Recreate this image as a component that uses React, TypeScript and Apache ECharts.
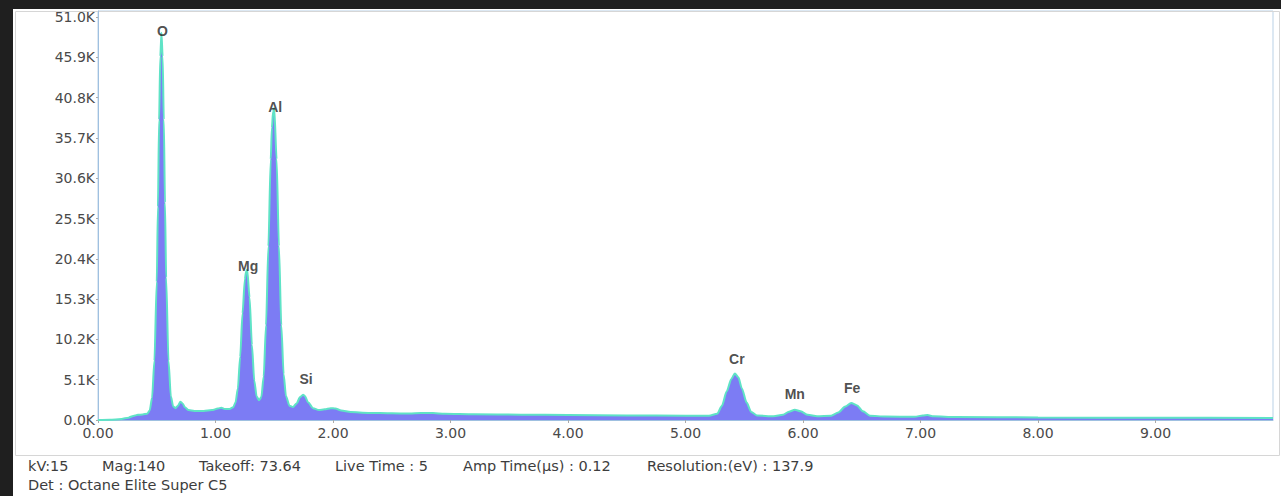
import React, { useEffect, useRef } from "react";
import * as echarts from "echarts";

// Energy channels (keV) and counts of the EDS spectrum
const energyKeV = [
  0.0, 0.1, 0.2, 0.26, 0.3, 0.34, 0.38, 0.42, 0.44, 0.46, 0.48, 0.5, 0.51, 0.52, 0.53, 0.54, 0.55, 0.56, 0.57, 0.58,
  0.6, 0.62, 0.64, 0.66, 0.68, 0.7, 0.72, 0.74, 0.77, 0.82, 0.9, 0.97, 1.02, 1.05, 1.08, 1.12, 1.15, 1.17, 1.19,
  1.21, 1.23, 1.25, 1.26, 1.27, 1.29, 1.31, 1.33, 1.35, 1.37, 1.39, 1.41, 1.43, 1.45, 1.47, 1.48, 1.49, 1.5, 1.52,
  1.54, 1.56, 1.58, 1.6, 1.63, 1.66, 1.69, 1.72, 1.745, 1.76, 1.79, 1.83, 1.88, 1.93, 1.98, 2.02, 2.07, 2.15, 2.3,
  2.5, 2.65, 2.75, 2.85, 2.95, 3.2, 3.6, 4.0, 4.5, 5.0, 5.2, 5.27, 5.31, 5.35, 5.39, 5.42, 5.45, 5.48, 5.52, 5.56,
  5.61, 5.75, 5.83, 5.88, 5.93, 5.98, 6.04, 6.12, 6.24, 6.3, 6.36, 6.41, 6.46, 6.51, 6.57, 6.7, 6.95, 7.02, 7.06, 7.11,
  7.3, 8.0, 9.0, 10.0,
];
const counts = [
  0, 30, 120, 300, 520, 650, 700, 800, 1200, 2800, 7500, 17500, 27000, 38000, 46000, 49000, 46000, 38000, 27500, 18000,
  7500, 3000, 1700, 1500, 1800, 2300, 2100, 1600, 1250, 1150, 1150, 1250, 1450, 1550, 1400, 1400, 1600, 2200, 4000,
  8000, 13500, 17800, 18800, 19000, 15500, 9500, 5000, 3000, 2500, 2900, 5500, 12000, 22000, 33000, 37000, 39000, 39500, 33000,
  22000, 12000, 5800, 3000, 1800, 1650, 2100, 2900, 3200, 3050, 2200, 1500, 1250, 1350, 1500, 1450, 1200, 1000, 900,
  850, 820, 900, 880, 780, 720, 680, 640, 580, 530, 540, 800, 1800, 3600, 5200, 5900, 5400, 4000, 2200, 1000,
  560, 480, 650, 1050, 1300, 1100, 650, 480, 550, 950, 1700, 2150, 1850, 1100, 550, 430, 420, 560, 620, 470,
  380, 320, 280, 250,
];

// Identified element peaks
const peakNames = ["O", "Mg", "Al", "Si", "Cr", "Mn", "Fe"];
const peakKeV = [0.54, 1.27, 1.5, 1.745, 5.42, 5.93, 6.41];
const peakCounts = [49000, 19000, 39500, 3200, 5900, 1300, 2150];

// Axis ticks
const xTickStep = 1;
const yTickStep = 5100;

// Acquisition details shown under the chart
const acquisitionLine = ["kV:15", "Mag:140", "Takeoff: 73.64", "Live Time : 5", "Amp Time(µs) : 0.12", "Resolution:(eV) : 137.9"];
const detectorLine = "Det : Octane Elite Super C5";

// vertical lift (px) of each peak tag above its peak
const tagLift: Record<string, number> = { O: -5, Mg: -3, Al: -6, Si: 9, Cr: 7, Mn: 9, Fe: 8 };
// horizontal nudge (px) of each peak tag
const tagShift: Record<string, number> = { O: 1, Mg: 1, Al: 1, Si: 3, Cr: 2, Mn: 0, Fe: 1 };
// left positions (px) of the acquisition items
const acqX = [15, 89, 186, 322, 450, 634];

export default function App() {
  const ref = useRef<HTMLDivElement>(null);

  useEffect(() => {
    if (!ref.current) return;
    const chart = echarts.init(ref.current, undefined, { renderer: "svg" });
    const spectrum = energyKeV.map((e, i) => [e, counts[i]]);
    const tags = peakNames.map((n, i) => ({
      name: n,
      value: [peakKeV[i], peakCounts[i]],
      label: { distance: tagLift[n], offset: [tagShift[n], 0] },
    }));
    const axisFont = { fontFamily: "DejaVu Sans", fontSize: 14, color: "#4a4a4a" };
    const footFont = { fontFamily: "DejaVu Sans", fontSize: 14.5, fill: "#3d3d3d" };

    chart.setOption({
      animation: false,
      backgroundColor: "#ffffff",
      grid: {
        left: 85,
        right: 8,
        top: 2,
        bottom: 76,
        show: true,
        borderColor: "#b9d1e6",
        borderWidth: 1,
        backgroundColor: "#ffffff",
      },
      xAxis: {
        type: "value",
        min: 0,
        max: 10,
        interval: xTickStep,
        axisLine: { show: true, lineStyle: { color: "#9fc0e0", width: 1 } },
        axisTick: { show: true, length: 3, lineStyle: { color: "#aaaaaa" } },
        splitLine: { show: false },
        axisLabel: {
          ...axisFont,
          margin: 6,
          showMaxLabel: false,
          formatter: (v: number) => v.toFixed(2),
        },
      },
      yAxis: {
        type: "value",
        min: 0,
        max: 51760,
        interval: yTickStep,
        axisLine: { show: true, lineStyle: { color: "#9fc0e0", width: 1 } },
        axisTick: { show: true, length: 2, lineStyle: { color: "#aaaaaa" } },
        splitLine: { show: false },
        axisLabel: {
          ...axisFont,
          margin: 3,
          showMaxLabel: false,
          formatter: (v: number) => (v % yTickStep === 0 ? (v / 1000).toFixed(1) + "K" : ""),
        },
      },
      series: [
        {
          type: "line",
          data: spectrum,
          showSymbol: false,
          smooth: 0.25,
          smoothMonotone: "x",
          lineStyle: { color: "#5fe3c6", width: 2 },
          areaStyle: { color: "#7c7cf4", opacity: 1 },
          z: 2,
        },
        {
          type: "scatter",
          data: tags,
          symbolSize: 0,
          z: 5,
          label: {
            show: true,
            position: "top",
            formatter: "{b}",
            fontFamily: "Liberation Sans",
            fontWeight: "bold",
            fontSize: 14,
            color: "#222222",
          },
        },
      ],
      graphic: [
        {
          type: "rect",
          left: 0,
          top: 0,
          shape: { x: 0.5, y: 0.5, width: 1264, height: 444 },
          style: { fill: "none", stroke: "#d6d6d6", lineWidth: 1 },
          silent: true,
        },
        ...acquisitionLine.map((t, i) => ({
          type: "text",
          x: acqX[i],
          y: 457,
          style: { text: t, ...footFont, textVerticalAlign: "middle" },
          silent: true,
        })),
        {
          type: "text",
          x: 15,
          y: 476,
          style: { text: detectorLine, ...footFont, textVerticalAlign: "middle" },
          silent: true,
        },
      ],
    });
    return () => chart.dispose();
  }, []);

  return (
    <div style={{ position: "fixed", left: 0, top: 0, width: 1281, height: 496, background: "#1f1f1f" }}>
      <div
        ref={ref}
        style={{ position: "absolute", left: 13, top: 9, width: 1268, height: 487, background: "#ffffff" }}
      />
    </div>
  );
}
